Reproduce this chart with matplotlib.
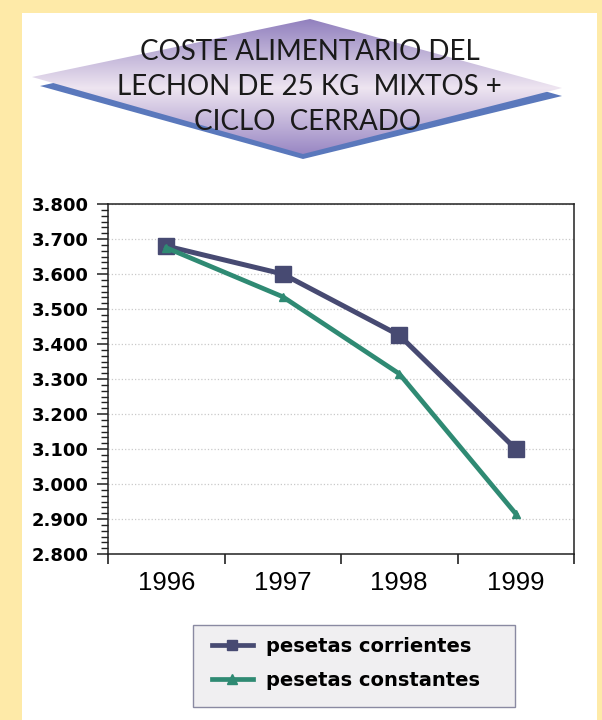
import matplotlib
matplotlib.use("Agg")
import matplotlib.pyplot as plt
import numpy as np
from matplotlib.patches import Polygon, Rectangle
from matplotlib.ticker import AutoMinorLocator, FixedLocator, NullFormatter
from matplotlib.colors import to_rgb

# ---- data ----
years = ["1996", "1997", "1998", "1999"]
corrientes = [3680, 3600, 3425, 3100]
constantes = [3675, 3535, 3315, 2915]
series_labels = ["pesetas corrientes", "pesetas constantes"]
y_ticks = [2800, 2900, 3000, 3100, 3200, 3300, 3400, 3500, 3600, 3700, 3800]
title_lines = ["COSTE ALIMENTARIO DEL", "LECHON DE 25 KG  MIXTOS +", "CICLO  CERRADO"]

W, H = 602, 720
fig = plt.figure(figsize=(W / 100, H / 100), dpi=100)
fig.patch.set_facecolor("#FEEAA8")

# background overlay axes in pixel coordinates
bg = fig.add_axes([0, 0, 1, 1], zorder=0)
bg.set_xlim(0, W)
bg.set_ylim(H, 0)
bg.axis("off")
bg.add_patch(Rectangle((22, 13), 597 - 22, H - 13, facecolor="white", edgecolor="none"))

# title diamond: shadow + gradient
shadow = Polygon([(40, 86), (310, 25), (562, 96), (303, 159)], closed=True,
                 facecolor="#5A78BC", edgecolor="none")
bg.add_patch(shadow)
diamond = Polygon([(32, 77), (310, 19), (562, 88), (303, 154)], closed=True,
                  facecolor="none", edgecolor="none")
bg.add_patch(diamond)
ys = np.linspace(19, 155, 200)
stops_y = [19, 88, 155]
stops_c = [to_rgb("#9180BE"), to_rgb("#EEE5F1"), to_rgb("#9886C3")]
grad = np.zeros((len(ys), 1, 3))
for k in range(3):
    grad[:, 0, k] = np.interp(ys, stops_y, [c[k] for c in stops_c])
im = bg.imshow(grad, extent=[32, 562, 155, 19], aspect="auto", interpolation="bilinear", zorder=2)
im.set_clip_path(diamond)

title_pos = [(310, 52), (309, 87), (307, 122)]
for line, (tx, ty) in zip(title_lines, title_pos):
    bg.text(tx, ty, line, ha="center", va="center", fontsize=20, family="Lato",
            color="#1A1A1A", zorder=3)

# ---- chart ----
ax = fig.add_axes([108 / W, 1 - 554 / H, 466 / W, 350 / H], zorder=1)
ax.set_facecolor("white")
xs = np.arange(len(years)) + 0.5
blue = "#474A72"
green = "#2F8A73"
l1, = ax.plot(xs, corrientes, color=blue, lw=3.6, marker="s", ms=11.5,
              mfc=blue, mec=blue, zorder=3, label=series_labels[0])
l2, = ax.plot(xs, constantes, color=green, lw=3.4, marker="^", ms=6,
              mfc=green, mec=green, zorder=4, label=series_labels[1])

ax.set_xlim(0, len(years))
ax.set_ylim(2800, 3800)
ax.set_yticks(y_ticks)
ax.set_yticklabels([f"{v:,}".replace(",", ".") for v in y_ticks],
                   fontsize=13, fontweight="bold", family="DejaVu Sans")
ax.yaxis.set_minor_locator(AutoMinorLocator(6))
ax.tick_params(axis="y", which="major", length=8, width=1.1, pad=6, direction="out", color="#222222")
ax.tick_params(axis="y", which="minor", length=5, width=1.0, direction="out", color="#222222")

ax.xaxis.set_major_locator(FixedLocator(np.arange(len(years) + 1)))
ax.xaxis.set_major_formatter(NullFormatter())
ax.xaxis.set_minor_locator(FixedLocator(xs))
ax.set_xticklabels(years, minor=True, fontsize=18.5, family="Liberation Sans")
ax.tick_params(axis="x", which="major", length=7.5, width=1.2, direction="out", color="#222222")
ax.tick_params(axis="x", which="minor", length=0, pad=12)

ax.yaxis.grid(True, which="major", color="#C9C9C9", linestyle=":", linewidth=0.9)
ax.set_axisbelow(True)
for s in ax.spines.values():
    s.set_color("#222222")
    s.set_linewidth(1.1)

# legend
bg.add_patch(Rectangle((193, 625), 322, 82, facecolor="#F0EFF1", edgecolor="#8A8AA2", lw=1.0, zorder=1))
leg = ax.legend(handles=[l1, l2], loc="upper left",
                bbox_to_anchor=(212 / W, 1 - 637 / H), bbox_transform=fig.transFigure,
                frameon=False, borderpad=0, borderaxespad=0, handlelength=2.1,
                handletextpad=0.7, labelspacing=0.75, numpoints=1,
                prop={"family": "DejaVu Sans", "weight": "bold", "size": 14})
for h in leg.legend_handles:
    h.set_markersize(7)
    h.set_linewidth(3.4)

fig.savefig("out.png", dpi=100, facecolor=fig.get_facecolor())
